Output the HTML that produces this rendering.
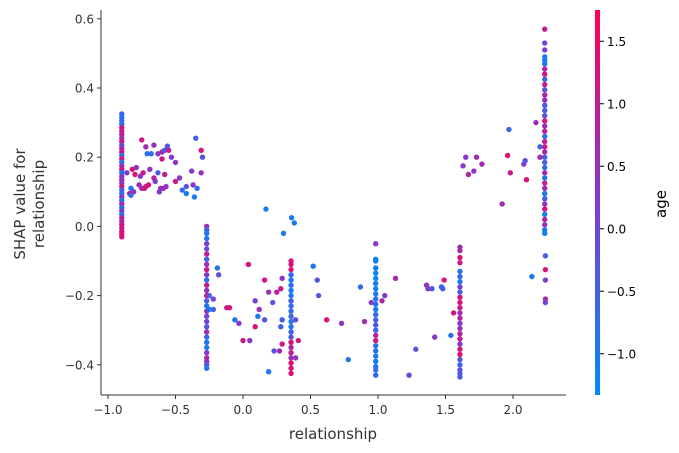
<!DOCTYPE html>
<html><head><meta charset="utf-8"><style>
body{margin:0;background:#fff;}
svg{display:block;font-family:"DejaVu Sans","Liberation Sans",sans-serif;}
</style></head><body>
<svg id="chart" width="679" height="453" viewBox="0 0 679 453">
<defs><linearGradient id="cbg" x1="0" y1="1" x2="0" y2="0">
<stop offset="0" stop-color="rgb(0,138,250)"/><stop offset="0.5" stop-color="rgb(125,60,210)"/><stop offset="1" stop-color="rgb(255,0,82)"/>
</linearGradient></defs>
<g id="points"></g>
<g id="axes"></g>
</svg>
<script>
const xTicks=[-1.0,-0.5,0.0,0.5,1.0,1.5,2.0];
const yTicks=[0.6,0.4,0.2,0.0,-0.2,-0.4];
const cTicks=[1.5,1.0,0.5,0.0,-0.5,-1.0];
const colX=[-0.898,-0.269,0.356,0.983,1.607,2.235];
const colYA=[0.325,0.315,0.305,0.295,0.285,0.275,0.265,0.255,0.245,0.235,0.225,0.215,0.205,0.195,0.185,0.175,0.165,0.155,0.145,0.135,0.125,0.115,0.105,0.095,0.085,0.075,0.065,0.055,0.045,0.035,0.025,0.015,0.005,-0.005,-0.015,-0.022,-0.03];
const colCA=[-0.6,-0.9,-0.7,-0.8,1.2,1.0,0.9,0.6,1.3,-0.3,0.8,1.1,-0.7,1.3,-0.9,0.5,1.2,-1.0,0.2,0.6,0.4,1.3,-0.6,-0.8,0.5,-1.0,0.8,-0.7,0.3,-1.0,1.0,0.6,1.2,1.1,1.3,1.4,1.3];
const colYB=[0.0,-0.01,-0.02,-0.035,-0.05,-0.065,-0.08,-0.095,-0.11,-0.125,-0.14,-0.155,-0.17,-0.185,-0.2,-0.215,-0.23,-0.245,-0.26,-0.275,-0.29,-0.305,-0.32,-0.335,-0.35,-0.365,-0.38,-0.39,-0.4,-0.41];
const colCB=[0.6,-0.7,-0.9,-1.0,0.2,-0.1,1.0,-0.6,0.6,1.2,0.3,-0.8,1.0,0.4,1.3,-0.5,-1.0,0.5,0.2,0.1,-0.3,0.6,-0.6,-1.0,-0.9,0.3,0.7,0.5,-0.4,-0.9];
const colYC=[-0.1,-0.11,-0.125,-0.14,-0.155,-0.17,-0.185,-0.2,-0.215,-0.23,-0.245,-0.26,-0.275,-0.29,-0.305,-0.32,-0.335,-0.35,-0.365,-0.38,-0.395,-0.41,-0.425];
const colCC=[1.3,1.2,1.3,-0.7,-1.0,-0.8,-1.0,-0.9,-0.5,-0.7,-0.8,-0.6,-0.9,-1.0,-0.6,-0.3,1.2,0.8,1.0,0.6,1.3,1.3,1.2];
const colYD=[-0.05,-0.095,-0.1,-0.12,-0.135,-0.15,-0.165,-0.18,-0.195,-0.21,-0.225,-0.24,-0.255,-0.27,-0.285,-0.3,-0.315,-0.33,-0.345,-0.36,-0.375,-0.39,-0.405,-0.415,-0.43];
const colCD=[0.3,-1.2,-1.2,-1.2,-1.3,-1.2,-1.1,-1.2,-1.0,-0.9,-0.8,-1.0,-0.7,-0.5,-0.4,-0.6,0.9,1.1,-0.8,-0.9,-1.0,-1.1,-0.9,-0.8,-0.8];
const colYE=[-0.06,-0.07,-0.09,-0.105,-0.13,-0.145,-0.16,-0.175,-0.19,-0.205,-0.22,-0.235,-0.25,-0.265,-0.28,-0.295,-0.31,-0.325,-0.34,-0.355,-0.37,-0.385,-0.4,-0.415,-0.425,-0.435];
const colCE=[0.6,0.6,1.4,1.0,-0.9,-0.6,-1.0,0.2,-0.5,1.3,1.2,1.0,0.6,0.8,0.4,0.5,0.9,1.0,0.2,1.2,1.3,-0.3,-0.6,-0.2,-0.4,-0.3];
const colYF=[0.57,0.53,0.51,0.49,0.48,0.47,0.455,0.44,0.425,0.41,0.395,0.38,0.365,0.35,0.335,0.32,0.305,0.29,0.275,0.26,0.245,0.23,0.215,0.2,0.185,0.17,0.155,0.14,0.125,0.11,0.095,0.08,0.065,0.05,0.035,0.02,0.005,-0.01,-0.02];
const colCF=[1.0,0.1,0.1,-1.0,-1.1,-0.9,0.8,1.2,-0.6,1.1,-0.3,0.9,0.5,-0.4,-0.5,-0.2,1.3,0.6,0.9,-0.8,1.0,1.2,0.7,-0.6,-0.4,-0.7,0.8,-0.9,1.0,0.6,-1.0,-0.5,0.5,1.3,-1.1,0.9,0.4,-1.0,-1.2];
const ptX=[-0.75,-0.72,-0.66,-0.56,-0.68,-0.71,-0.63,-0.6,-0.58,-0.55,-0.53,-0.5,-0.6,-0.69,-0.79,-0.86,-0.82,-0.8,-0.76,-0.74,-0.63,-0.65,-0.66,-0.58,-0.5,-0.47,-0.42,-0.42,-0.45,-0.57,-0.59,-0.61,-0.62,-0.7,-0.72,-0.73,-0.75,-0.77,-0.81,-0.83,-0.84,-0.83,-0.35,-0.31,-0.3,-0.31,-0.38,-0.37,-0.34,-0.36,
0.17,0.36,0.38,0.3,-0.25,-0.22,-0.22,-0.25,-0.18,-0.19,-0.12,-0.1,-0.06,-0.03,0.09,0.12,0.11,0.09,0.0,0.05,0.16,0.16,0.19,0.22,0.25,0.28,0.29,0.29,0.28,0.29,0.27,0.23,0.19,0.04,0.52,0.55,0.56,0.62,0.39,0.41,0.39,0.73,0.78,0.87,0.9,0.95,1.03,1.05,1.13,1.23,1.28,1.36,1.37,1.4,1.42,1.47,1.48,1.49,1.54,1.56,
1.63,1.65,1.67,1.71,1.73,1.77,1.92,1.96,1.97,1.98,2.08,2.09,2.1,2.17,2.2,2.2,2.14,2.24,2.24,2.24,2.24,2.24];
const ptY=[0.25,0.23,0.235,0.232,0.21,0.21,0.21,0.215,0.22,0.22,0.2,0.185,0.195,0.165,0.17,0.155,0.165,0.15,0.145,0.155,0.155,0.13,0.14,0.15,0.13,0.14,0.115,0.095,0.105,0.115,0.11,0.11,0.1,0.12,0.115,0.11,0.11,0.12,0.1,0.11,0.095,0.09,0.255,0.22,0.2,0.155,0.16,0.12,0.11,0.085,
0.05,0.025,0.01,-0.02,-0.2,-0.21,-0.24,-0.24,-0.14,-0.12,-0.235,-0.235,-0.27,-0.28,-0.215,-0.24,-0.26,-0.29,-0.33,-0.33,-0.27,-0.155,-0.19,-0.22,-0.19,-0.18,-0.15,-0.27,-0.29,-0.34,-0.36,-0.36,-0.42,-0.11,-0.115,-0.155,-0.2,-0.27,-0.27,-0.33,-0.38,-0.28,-0.385,-0.175,-0.275,-0.22,-0.215,-0.2,-0.15,-0.43,-0.355,-0.17,-0.18,-0.18,-0.32,-0.175,-0.18,-0.155,-0.315,-0.25,
0.175,0.2,0.15,0.16,0.2,0.18,0.065,0.205,0.28,0.155,0.18,0.19,0.135,0.3,0.2,0.23,-0.145,-0.085,-0.125,-0.155,-0.21,-0.22];
const ptC=[1.2,0.6,0.5,-0.3,-0.7,-0.8,0.4,0.7,-0.2,1.0,0.3,0.4,1.2,0.5,0.4,0.2,1.3,1.3,0.3,1.2,-0.4,0.2,0.9,1.0,1.1,0.3,-0.2,-1.1,-0.8,0.5,0.6,0.4,0.3,1.3,1.3,1.1,0.9,0.6,0.4,-1.0,1.2,-0.8,-0.5,1.3,-0.3,0.5,0.3,0.4,-0.8,-1.0,
-1.0,-1.0,-1.0,-1.0,-0.5,0.1,-0.4,-1.0,-0.2,-0.9,1.0,1.3,-0.9,0.3,0.2,0.5,-1.0,1.3,1.1,0.4,-0.3,1.3,0.6,-0.3,0.9,1.0,0.4,-0.5,-0.5,1.1,0.7,-0.2,-1.0,1.3,-1.0,-0.3,-0.3,1.3,-0.1,1.0,0.5,0.4,-1.0,-0.7,0.6,0.3,0.7,0.3,0.7,0.0,-0.3,0.4,0.3,-0.3,0.3,-0.5,-0.5,1.3,-0.8,1.2,
0.3,0.3,0.7,0.4,0.6,0.6,0.6,1.3,-0.6,1.0,0.3,-0.2,1.3,0.6,0.7,-0.5,-1.0,-0.4,1.3,0.2,0.7,0.0];

const NS='http://www.w3.org/2000/svg';
const xScale=v=>243+v*135;
const yScale=v=>226.4-v*346;
const cbTop=10,cbBot=395,cMin=-1.33,cMax=1.75;
const cScale=v=>cbBot-(v-cMin)/(cMax-cMin)*(cbBot-cbTop);
function color(v){
  let t=Math.max(0,Math.min(1,(v-cMin)/(cMax-cMin)));
  const a=[0,138,250],m=[125,60,210],b=[255,0,82];
  let c=t<0.5?a.map((x,i)=>x+(m[i]-x)*t*2):m.map((x,i)=>x+(b[i]-x)*(t-0.5)*2);
  return 'rgb('+c.map(Math.round).join(',')+')';
}
function mk(tag,attrs,parent,text){
  const e=document.createElementNS(NS,tag);
  for(const k in attrs)e.setAttribute(k,attrs[k]);
  if(text!==undefined)e.textContent=text;
  parent.appendChild(e);return e;
}
const pg=document.getElementById('points');
function dot(x,y,c){
  const e=mk('circle',{cx:xScale(x),cy:yScale(y),r:2.7,fill:color(c)},pg);
  
  
}
const cols=[[colYA,colCA],[colYB,colCB],[colYC,colCC],[colYD,colCD],[colYE,colCE],[colYF,colCF]];
cols.forEach((cc,i)=>cc[0].forEach((y,j)=>dot(colX[i],y,cc[1][j])));
ptX.forEach((x,i)=>dot(x,ptY[i],ptC[i]));

const ax=document.getElementById('axes');
const sp='#333';
const ls=mk('line',{x1:101,y1:10,x2:101,y2:395,stroke:sp,'stroke-width':1},ax);

const bs=mk('line',{x1:101,y1:395,x2:566,y2:395,stroke:sp,'stroke-width':1},ax);

xTicks.forEach(v=>{
  const x=xScale(v);
  mk('line',{x1:x,y1:395,x2:x,y2:399,stroke:sp},ax);
  const t=mk('text',{x:x,y:414,'text-anchor':'middle','font-size':12,fill:'#333'},ax,v.toFixed(1).replace('-','\u2212'));
  
});
yTicks.forEach(v=>{
  const y=yScale(v);
  mk('line',{x1:97,y1:y,x2:101,y2:y,stroke:sp},ax);
  const t=mk('text',{x:94,y:y+4.5,'text-anchor':'end','font-size':12,fill:'#333'},ax,v.toFixed(1).replace('-','\u2212'));
  
});
const xl=mk('text',{x:333,y:439,'text-anchor':'middle','font-size':15,fill:'#333'},ax,'relationship');

const yl=mk('text',{transform:'translate(25,204) rotate(-90)','text-anchor':'middle','font-size':15,fill:'#333'},ax);

mk('tspan',{x:0,dy:0},yl,'SHAP value for');
mk('tspan',{x:0,dy:19},yl,'relationship');
const cb=mk('rect',{x:595,y:cbTop,width:5,height:cbBot-cbTop,fill:'url(#cbg)'},ax);

cTicks.forEach(v=>{
  const y=cScale(v);
  mk('line',{x1:600,y1:y,x2:604,y2:y,stroke:'#000'},ax);
  const t=mk('text',{x:607,y:y+4.5,'font-size':12,fill:'#000'},ax,v.toFixed(1).replace('-','\u2212'));
  
});
const cl=mk('text',{transform:'translate(666,204) rotate(-90)','text-anchor':'middle','font-size':15,fill:'#000'},ax,'age');

</script>
</body></html>
